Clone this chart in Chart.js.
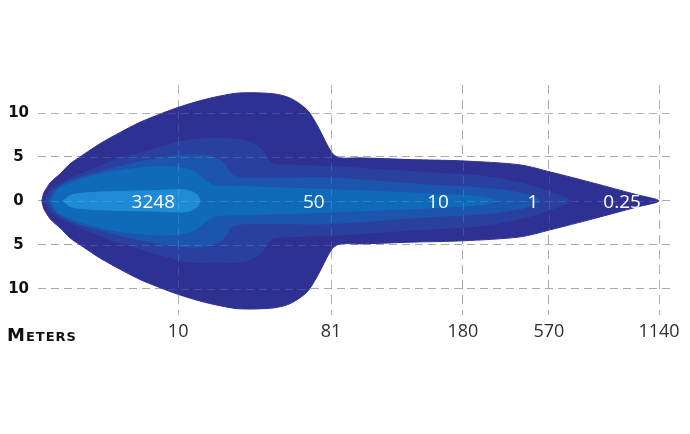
<!DOCTYPE html>
<html>
<head>
<meta charset="utf-8">
<script src="https://cdn.jsdelivr.net/npm/chart.js@4"></script>
<style>
  body { margin: 0; background: #fff; }
  #wrap { width: 690px; height: 434px; }
</style>
</head>
<body>
<div id="wrap"><canvas id="beam" width="690" height="434"></canvas></div>
<script>
// x positions are in relative chart units (0..100), the distance ticks sit at irregular spots
const distanceTicks = [22, 46, 66.7, 80.2, 97.5];
const distanceLabels = ["10", "81", "180", "570", "1140"];
const widthTicks = [-10, -5, 0, 5, 10];

// lux values written along the centre line
const luxLabels = ["3248", "50", "10", "1", "0.25"];
const luxX = [18.1, 43.3, 62.8, 77.7, 91.7];

// half widths of each beam contour (outer -> inner)
const outerX = [0.6, 0.9, 1.4, 1.9, 2.7, 3.5, 5.0, 7.1, 9.7, 12.9, 16.0, 19.2, 21.8, 25.4, 28.6, 31.7, 36.9, 39.6, 42.2, 43.8, 45.4, 46.3, 47.4, 50.5, 58.6, 66.7, 75.7, 80.4, 87.1, 94.0, 97.5];
const outerW = [0, 0.9, 1.5, 2.05, 2.6, 3.1, 4.2, 5.25, 6.5, 7.8, 8.95, 9.9, 10.6, 11.4, 11.95, 12.3, 12.2, 11.7, 10.4, 8.65, 6.4, 5.35, 4.9, 4.9, 4.7, 4.55, 4.1, 3.3, 2.05, 0.7, 0];

const secondX = [1.1, 1.6, 2.4, 5.0, 8.2, 12.0, 16.0, 20.0, 23.9, 30.1, 33.3, 35.2, 36.7, 38.8, 46.6, 61.5, 69.4, 75.7, 80.4, 83.5];
const secondW = [0, 0.8, 1.5, 2.5, 3.5, 4.6, 5.45, 6.3, 6.95, 7.05, 6.7, 5.8, 4.3, 4.1, 3.9, 3.2, 2.85, 2.05, 1.0, 0];

const thirdX = [1.6, 2.7, 5.5, 9.7, 16.0, 23.1, 27.0, 28.9, 30.5, 32.5, 38.8, 45.8, 61.5, 69.4, 75.7, 78.8];
const thirdW = [0, 1.25, 2.4, 3.3, 4.45, 5.25, 5.1, 4.45, 2.95, 2.6, 2.6, 2.6, 1.8, 1.5, 0.9, 0];

const fourthX = [2.0, 3.5, 10.8, 18.7, 22.3, 24.6, 26.2, 27.8, 33.3, 46.6, 61.5, 69.4, 71.7];
const fourthW = [0, 1.5, 3.2, 3.9, 3.75, 3.3, 2.4, 1.7, 1.6, 1.25, 0.8, 0.45, 0];

const coreX = [3.9, 5.3, 9.7, 17.6, 23.1, 24.8, 25.4];
const coreW = [0, 0.7, 1.0, 1.15, 1.25, 0.8, 0];

const layerColors = ["#2e3192", "#2a409f", "#1c55ad", "#0f6bba", "#1f8bd6"];

function outline(xs, ws) {
  const top = xs.map((x, i) => ({ x, y: ws[i] }));
  const bottom = [];
  for (let i = xs.length - 2; i >= 0; i--) bottom.push({ x: xs[i], y: -ws[i] });
  return top.concat(bottom);
}

const layers = [
  [outerX, outerW],
  [secondX, secondW],
  [thirdX, thirdW],
  [fourthX, fourthW],
  [coreX, coreW],
];

const datasets = layers.map(([xs, ws], i) => ({
  data: outline(xs, ws),
  backgroundColor: layerColors[i],
  borderColor: layerColors[i],
  borderWidth: 1,
  fill: "shape",
  tension: 0.3,
  pointRadius: 0,
  order: layers.length - i,
}));

const beamLabels = {
  id: "beamLabels",
  afterDatasetsDraw(chart) {
    const { ctx, scales, chartArea } = chart;
    // faint grid showing through the beam
    ctx.save();
    ctx.strokeStyle = "rgba(255,255,255,0.13)";
    ctx.lineWidth = 1;
    ctx.setLineDash([8, 5]);
    widthTicks.forEach((v) => {
      const y = Math.round(scales.y.getPixelForValue(v)) + 0.5;
      ctx.beginPath();
      ctx.moveTo(chartArea.left, y);
      ctx.lineTo(chartArea.right, y);
      ctx.stroke();
    });
    distanceTicks.forEach((v) => {
      const x = Math.round(scales.x.getPixelForValue(v)) + 0.5;
      ctx.beginPath();
      ctx.moveTo(x, chartArea.top);
      ctx.lineTo(x, chartArea.bottom);
      ctx.stroke();
    });
    ctx.restore();

    ctx.save();
    ctx.fillStyle = "#ffffff";
    ctx.font = "19px 'Open Sans'";
    ctx.textAlign = "center";
    ctx.textBaseline = "middle";
    luxLabels.forEach((t, i) => {
      ctx.fillText(t, scales.x.getPixelForValue(luxX[i]), scales.y.getPixelForValue(0) + 2);
    });
    ctx.restore();

    ctx.save();
    ctx.fillStyle = "#111";
    ctx.font = "small-caps bold 18px 'DejaVu Sans'";
    ctx.letterSpacing = "1px";
    ctx.textAlign = "left";
    ctx.textBaseline = "alphabetic";
    ctx.fillText("Meters", 7, 341);
    ctx.restore();
  },
};

new Chart(document.getElementById("beam"), {
  type: "line",
  data: { datasets },
  plugins: [beamLabels],
  options: {
    responsive: false,
    animation: false,
    layout: { padding: { top: 85, right: 15, left: 0, bottom: 0 } },
    plugins: { legend: { display: false }, tooltip: { enabled: false } },
    scales: {
      x: {
        type: "linear",
        min: 0,
        max: 100,
        afterBuildTicks: (scale) => {
          scale.ticks = distanceTicks.map((value) => ({ value }));
        },
        afterFit: (scale) => {
          scale.height = 119;
        },
        ticks: {
          callback: (value, index) => distanceLabels[index],
          color: "#2f2f2f",
          font: { family: "'Open Sans'", size: 18, weight: "normal" },
          padding: 6,
          maxRotation: 0,
          autoSkip: false,
        },
        grid: { color: "#a8a8a8", drawTicks: false },
        border: { display: false, dash: [9, 6] },
      },
      y: {
        type: "linear",
        min: -13,
        max: 13.2,
        afterBuildTicks: (scale) => {
          scale.ticks = widthTicks.map((value) => ({ value }));
        },
        afterFit: (scale) => {
          scale.width = 38;
        },
        ticks: {
          callback: (value) => String(Math.abs(value)),
          color: "#111",
          font: { family: "'DejaVu Sans'", size: 15, weight: "bold" },
          padding: 9,
          crossAlign: "center",
        },
        grid: { color: "#a8a8a8", drawTicks: false },
        border: { display: false, dash: [8, 5] },
      },
    },
  },
});
</script>
</body>
</html>
